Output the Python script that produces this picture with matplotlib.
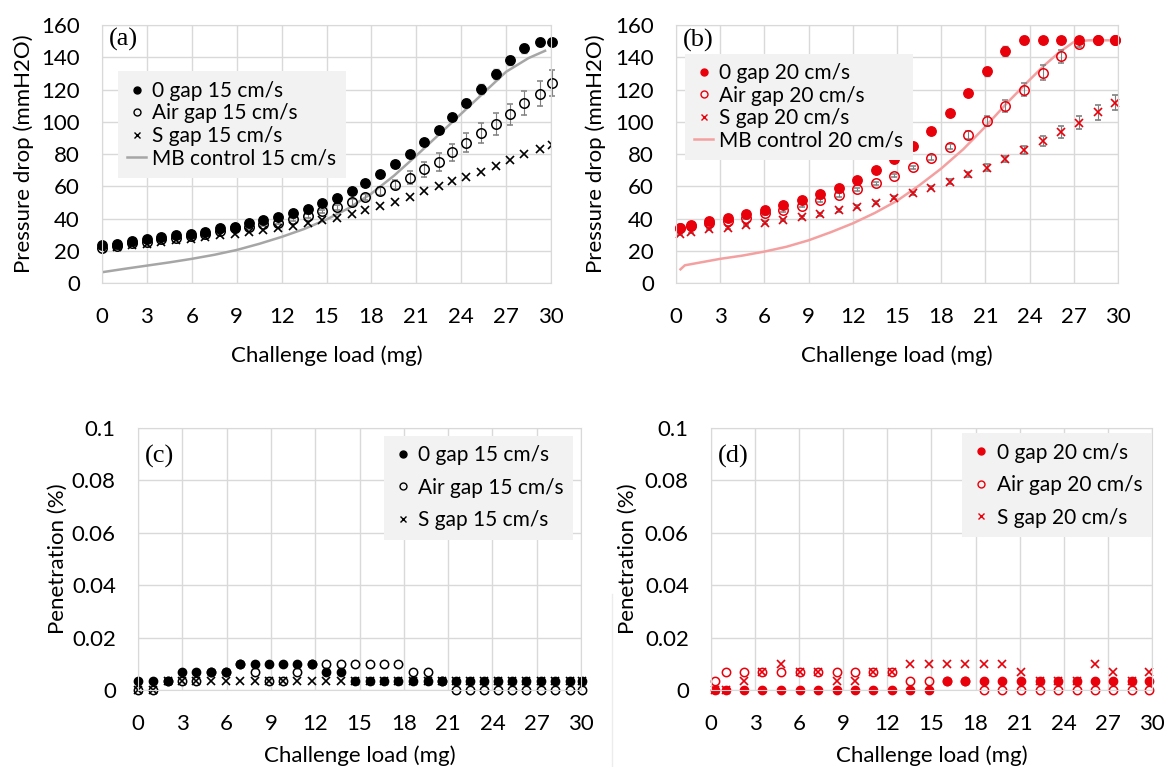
import matplotlib
matplotlib.use("Agg")
import matplotlib.pyplot as plt
from matplotlib.lines import Line2D

plt.rcParams['font.family'] = ['Lato', 'DejaVu Sans']

RED = '#e8000b'
GRID = '#d9d9d9'
ERR = '#7f7f7f'

# challenge load (mg) at 15 cm/s and 20 cm/s
load_15 = [0, 1.0, 2.0, 3.0, 3.95, 4.94, 5.94, 6.89, 7.89, 8.89, 9.83, 10.78,
           11.75, 12.75, 13.73, 14.67, 15.7, 16.67, 17.6, 18.6, 19.6, 20.55,
           21.5, 22.5, 23.4, 24.35, 25.34, 26.3, 27.27, 28.2, 29.25, 30.05]
load_20 = [0.25, 0.99, 2.25, 3.5, 4.77, 6.03, 7.28, 8.57, 9.8, 11.05, 12.3,
           13.55, 14.8, 16.07, 17.3, 18.57, 19.8, 21.1, 22.35, 23.6, 24.88,
           26.15, 27.38, 28.62, 29.8]

# pressure drop (mmH2O), 15 cm/s
dp_gap0_15 = [23.5, 24.5, 26, 27, 28.6, 29.6, 30.6, 31.9, 34, 35, 37, 38.8,
              41, 43.5, 46, 49.5, 53, 57, 62, 67.5, 73.5, 80, 87.5, 95, 103,
              111.5, 120.5, 129.5, 138, 145.5, 149.5, 149.5]
dp_gap0_15_err = [0.8] * 17 + [1, 1, 1.5, 1.5, 1.5, 2, 2, 2, 2.5, 3, 3, 3,
                               3, 2.5, 1.5]
dp_air_15 = [22, 23, 24.7, 25.7, 27, 28.2, 29.4, 30.2, 32.3, 34.3, 34.7,
             36.4, 37.4, 39.4, 41.5, 44.5, 47, 50, 53.3, 57.2, 61, 65.4, 70.5,
             75.2, 81, 87, 93, 98.7, 104.8, 111.4, 117.5, 123.8]
dp_air_15_err = [1] * 16 + [1.5, 2, 2, 2.5, 3, 4, 4.5, 5.5, 5.5, 6, 6, 7,
                            6.5, 7.5, 7.5, 8]
dp_sgap_15 = [21.7, 22.5, 23.7, 24.5, 25.5, 26.8, 27.6, 28.6, 29.6, 30.6,
              31.7, 32.9, 34.3, 35.3, 37, 38.8, 40.5, 42.5, 45, 47.6, 50,
              53.3, 56.8, 60, 63, 66, 69, 72.5, 76.2, 80, 83, 85.8]
mb_load_15 = [0, 1.5, 3, 4.5, 6, 7.5, 9, 10.5, 12, 13.5, 15, 16.5, 18, 19.5,
              21, 22.5, 24, 25.5, 27, 28.5, 29.6]
mb_dp_15 = [6.7, 8.8, 10.8, 12.8, 15, 17.5, 20.5, 24.3, 28.6, 33.5, 39.4,
            46.5, 55.5, 66.5, 79, 92, 105, 118, 131, 139.5, 144]

# pressure drop (mmH2O), 20 cm/s
dp_gap0_20 = [34, 36.2, 38.5, 40.2, 42.6, 45.3, 48.4, 51.5, 55.2, 59.1, 63.8,
              70, 76.6, 84.8, 94.3, 105.4, 117.8, 131.2, 143.7, 150.5, 150.5,
              150.5, 150.5, 150.5, 150.5]
dp_gap0_20_err = [0.8] * 15 + [1.5, 2, 3, 3, 2.5, 1, 1, 1, 1, 1]
dp_air_20 = [34, 35.6, 37, 38.7, 40.6, 43.2, 45.3, 48, 51.3, 54.6, 58, 61.8,
             66.5, 71.7, 77.6, 84.6, 92, 100.5, 109.8, 119.8, 130.4, 140.6,
             148.3, 150.5, 150.5]
dp_air_20_err = [1] * 14 + [1.5, 1.5, 2.5, 3, 3.5, 4, 4.5, 4, 2, 1, 1]
dp_sgap_20 = [30.3, 31.9, 33.4, 34.4, 36, 37.5, 39.1, 40.8, 42.6, 45.1, 47.4,
              49.8, 52.9, 55.6, 59.1, 62.8, 67.3, 71.5, 76.8, 82.4, 87.9, 93.7,
              99.5, 105.8, 111.8]
dp_sgap_20_err = [0.8] * 14 + [1, 1.5, 1.5, 2, 2, 2.5, 3, 3.5, 4, 4.5, 4.5]
mb_load_20 = [0.3, 0.6, 1.5, 3, 4.5, 6, 7.5, 9, 10.5, 12, 13.5, 15, 16.5, 18,
              19.5, 21, 22.5, 24, 25, 26, 27, 28, 30]
mb_dp_20 = [8.5, 11, 12.5, 15, 17, 19.5, 22.5, 26.5, 31.5, 37, 43.5, 51, 60.5,
            71, 83, 97, 112, 126, 135, 143, 149.5, 150.5, 150.5]

# penetration (%), 15 cm/s
pen_gap0_15 = [.0033, .0033, .0033, .0067, .0067, .0067, .0067, .01, .01,
               .01, .01, .01, .01, .0067, .0067] + [.0033] * 17
pen_air_15 = [0, 0, .0033, .0033, .0033, .0067, .0067, .01, .0067, .0033,
              .0033, .0067, .01, .01, .01, .01, .01, .01, .01, .0067, .0067,
              .0033] + [0] * 10
pen_sgap_15 = [0, 0] + [.0033] * 30

# penetration (%), 20 cm/s
pen_gap0_20 = [0] * 13 + [.0033] * 12
pen_air_20 = [.0033, .0067, .0067, .0067, .0067, .0067, .0067, .0067, .0067,
              .0067, .0067, .0033, .0033, .0033, .0033] + [0] * 10
pen_sgap_20 = [0, 0, .0033, .0067, .01, .0067, .0067, .0033, .0033, .0067,
               .0067, .01, .01, .01, .01, .01, .01, .0067, .0033, .0033,
               .0033, .01, .0067, .0033, .0067]

xticks = list(range(0, 31, 3))
pen_ticklabels = ['0', '0.02', '0.04', '0.06', '0.08', '0.1']


def style_axes(ax, ymax, ystep, ylabel, tag, tag_y, ylab_x, xlab_y):
    ax.set_xlim(0, 30)
    ax.set_ylim(0, ymax)
    ax.set_xticks(xticks)
    ax.set_yticks([i * ystep for i in range(int(round(ymax / ystep)) + 1)])
    ax.grid(True, color=GRID, lw=1)
    ax.set_axisbelow(True)
    for s in ax.spines.values():
        s.set_color(GRID)
    ax.tick_params(length=0, labelsize=16, colors='black')
    ax.tick_params(axis='x', pad=17)
    ax.tick_params(axis='y', pad=16)
    ax.set_ylabel(ylabel, fontsize=16)
    ax.set_xlabel('Challenge load (mg)', fontsize=16)
    # label anchors: right edge of the y label, top edge of the x label
    ax.yaxis.set_label_coords(ylab_x, 0.5)
    ax.xaxis.set_label_coords(0.5, xlab_y)
    ax.text(0.015, tag_y, tag, transform=ax.transAxes, ha='left', va='top',
            fontsize=19, family='Liberation Serif')


def legend(ax, handles, anchor, spacing):
    leg = ax.legend(handles=handles, loc='upper left', bbox_to_anchor=anchor,
                    fontsize=15, frameon=True, fancybox=False,
                    handlelength=0.9, handletextpad=0.3, borderpad=0.45,
                    labelspacing=spacing, borderaxespad=0)
    leg.get_frame().set_facecolor('#f2f2f2')
    leg.get_frame().set_edgecolor('none')
    leg.get_frame().set_alpha(1)


def handles(color, speed, line_color=None):
    h = [Line2D([], [], ls='none', marker='o', color=color, ms=5,
                label='0 gap %s cm/s' % speed),
         Line2D([], [], ls='none', marker='o', mfc='none', mec=color, ms=5,
                label='Air gap %s cm/s' % speed),
         Line2D([], [], ls='none', marker='x', color=color, ms=5,
                label='S gap %s cm/s' % speed)]
    if line_color:
        h.append(Line2D([], [], color=line_color, lw=1.8,
                        label='MB control %s cm/s' % speed))
    return h


fig = plt.figure(figsize=(11.65, 7.67), dpi=100)
ax_a = fig.add_axes([0.0876, 0.631, 0.3854, 0.3364])
ax_b = fig.add_axes([0.5803, 0.631, 0.3794, 0.3364])
ax_c = fig.add_axes([0.1185, 0.1004, 0.3803, 0.3416])
ax_d = fig.add_axes([0.6103, 0.1004, 0.3785, 0.3416])

ms = 6.8
err_kw = dict(ecolor=ERR, elinewidth=0.8, capsize=2, clip_on=False)

# (a) pressure drop at 15 cm/s
ax = ax_a
ax.plot(mb_load_15, mb_dp_15, '-', color='#a6a6a6', lw=1.8)
ax.errorbar(load_15, dp_air_15, yerr=dp_air_15_err, fmt='o', mfc='none',
            mec='black', mew=1.1, ms=ms, **err_kw)
ax.errorbar(load_15, dp_gap0_15, yerr=dp_gap0_15_err, fmt='o', color='black',
            ms=ms, **err_kw)
ax.plot(load_15, dp_sgap_15, 'x', color='black', ms=6, mew=1.2)
style_axes(ax, 160, 20, 'Pressure drop (mmH2O)', '(a)', 0.99, -0.151, -0.24)
legend(ax, handles('black', 15, '#a6a6a6'), (0.035, 0.82), 0.12)

# (b) pressure drop at 20 cm/s
ax = ax_b
ax.plot(mb_load_20, mb_dp_20, '-', color='#f4a0a0', lw=1.8)
ax.errorbar(load_20, dp_air_20, yerr=dp_air_20_err, fmt='o', mfc='none',
            mec=RED, mew=1.1, ms=ms, **err_kw)
ax.errorbar(load_20, dp_sgap_20, yerr=dp_sgap_20_err, fmt='x', color=RED,
            ms=6, mew=1.2, **err_kw)
ax.errorbar(load_20, dp_gap0_20, yerr=dp_gap0_20_err, fmt='o', color=RED,
            ms=ms, **err_kw)
style_axes(ax, 160, 20, 'Pressure drop (mmH2O)', '(b)', 0.985, -0.158,
           -0.24)
legend(ax, handles(RED, 20, '#f4a0a0'), (0.02, 0.888), 0.12)

# (c) penetration at 15 cm/s
ax = ax_c
ax.plot(load_15, pen_gap0_15, 'o', color='black', ms=6, clip_on=False)
ax.plot(load_15, pen_air_15, 'o', mfc='none', mec='black', mew=1.1, ms=6,
        clip_on=False)
ax.plot(load_15, pen_sgap_15, 'x', color='black', ms=5.5, mew=1.2,
        clip_on=False)
style_axes(ax, 0.1, 0.02, 'Penetration (%)', '(c)', 0.935, -0.158, -0.21)
ax.set_yticklabels(pen_ticklabels)
legend(ax, handles('black', 15), (0.555, 0.97), 0.6)

# (d) penetration at 20 cm/s
ax = ax_d
ax.plot(load_20, pen_gap0_20, 'o', color=RED, ms=6, clip_on=False)
ax.plot(load_20, pen_air_20, 'o', mfc='none', mec=RED, mew=1.1, ms=6,
        clip_on=False)
ax.plot(load_20, pen_sgap_20, 'x', color=RED, ms=5.5, mew=1.2, clip_on=False)
style_axes(ax, 0.1, 0.02, 'Penetration (%)', '(d)', 0.935, -0.166, -0.21)
ax.set_yticklabels(pen_ticklabels)
legend(ax, handles(RED, 20), (0.57, 0.98), 0.6)

# thin divider between the two lower panels
fig.add_artist(Line2D([0.525, 0.525], [0.0, 0.225], color='#ececec', lw=1))

fig.savefig('out.png', dpi=100)
